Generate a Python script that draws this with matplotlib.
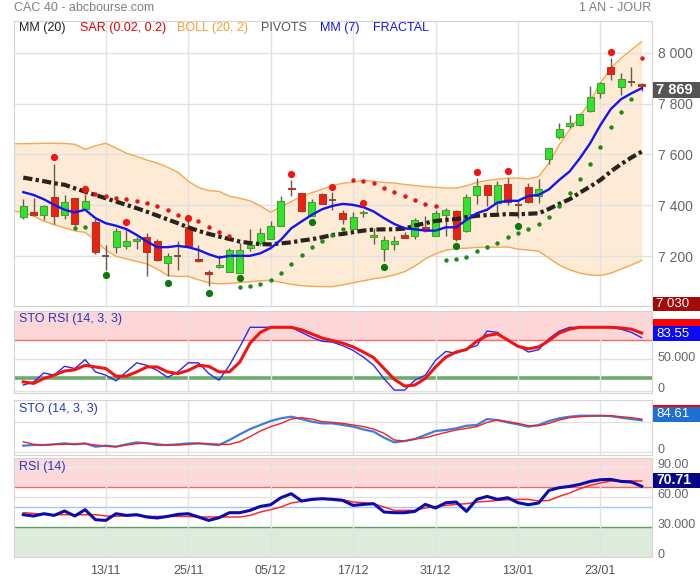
import numpy as np
import matplotlib
matplotlib.use("Agg")
import matplotlib.pyplot as plt
from matplotlib.patches import Rectangle
from matplotlib.transforms import ScaledTranslation

plt.rcParams['font.family'] = ['Liberation Sans', 'DejaVu Sans']

nan = np.nan

# ---- data (CAC 40, daily, 01/11 -> 29/01) ----
dates    = ['13/11', '25/11', '05/12', '17/12', '31/12', '13/01', '23/01']
date_idx = [8, 16, 24, 32, 40, 48, 56]

opens  = [7354, 7375, 7364, 7432, 7362, 7428, 7385, 7334, 7203, 7236,
          7242, 7262, 7275, 7260, 7173, 7200, 7314, 7190, 7139, 7157,
          7138, 7134, 7232, 7252, 7270, 7320, 7470, 7448, 7360, 7445,
          7422, 7369, 7309, 7369, 7275, 7229, 7249, 7282, 7278, 7315,
          7278, 7363, 7379, 7301, 7439, 7481, 7409, 7485, 7402, 7471,
          7435, 7581, 7670, 7710, 7714, 7772, 7840, 7945, 7864, 7886, 7876]
highs  = [7424, 7428, 7402, 7563, 7441, 7430, 7444, 7346, 7245, 7311,
          7304, 7275, 7291, 7267, 7212, 7261, 7343, 7245, 7147, 7206,
          7232, 7252, 7308, 7310, 7339, 7435, 7500, 7450, 7424, 7448,
          7454, 7382, 7373, 7382, 7311, 7278, 7278, 7297, 7350, 7359,
          7383, 7389, 7380, 7445, 7507, 7482, 7494, 7507, 7422, 7487,
          7503, 7626, 7723, 7755, 7762, 7867, 7886, 7978, 7919, 7943, 7882]
lows   = [7348, 7358, 7342, 7328, 7346, 7320, 7382, 7208, 7147, 7212,
          7227, 7227, 7123, 7181, 7121, 7148, 7240, 7176, 7082, 7153,
          7138, 7134, 7221, 7244, 7270, 7318, 7435, 7373, 7358, 7406,
          7380, 7328, 7309, 7356, 7249, 7182, 7225, 7271, 7269, 7297,
          7278, 7278, 7261, 7294, 7406, 7396, 7369, 7402, 7350, 7410,
          7409, 7563, 7660, 7703, 7710, 7765, 7821, 7893, 7834, 7869, 7850]
closes = [7398, 7362, 7397, 7358, 7413, 7325, 7418, 7216, 7203, 7300,
          7260, 7269, 7216, 7185, 7201, 7200, 7242, 7181, 7129, 7167,
          7225, 7225, 7245, 7291, 7320, 7418, 7466, 7379, 7413, 7406,
          7422, 7346, 7354, 7376, 7284, 7265, 7261, 7271, 7341, 7304,
          7370, 7381, 7269, 7432, 7478, 7439, 7481, 7412, 7402, 7413,
          7464, 7625, 7699, 7723, 7758, 7825, 7880, 7915, 7895, 7886, 7869]

mm20 = [7509, 7502, 7495, 7487, 7481, 7467, 7454, 7441, 7428, 7415,
        7402, 7389, 7375, 7360, 7345, 7330, 7314, 7300, 7288, 7278,
        7268, 7258, 7252, 7248, 7247, 7251, 7255, 7262, 7267, 7275,
        7284, 7288, 7295, 7301, 7305, 7306, 7306, 7309, 7321, 7330,
        7339, 7343, 7346, 7354, 7359, 7362, 7363, 7366, 7365, 7367,
        7369, 7386, 7406, 7424, 7450, 7474, 7500, 7533, 7562, 7588, 7611]
mm7 = [7452, 7441, 7424, 7402, 7383, 7372, 7383, 7350, 7330, 7320,
       7307, 7284, 7258, 7236, 7236, 7241, 7236, 7225, 7208, 7195,
       7202, 7202, 7202, 7212, 7232, 7265, 7310, 7337, 7363, 7385,
       7398, 7406, 7402, 7393, 7376, 7350, 7327, 7310, 7306, 7301,
       7301, 7314, 7314, 7343, 7369, 7383, 7411, 7418, 7418, 7437,
       7441, 7463, 7500, 7533, 7585, 7644, 7716, 7778, 7817, 7840, 7860]

# bollinger bands start one session before the first candle
boll_up = [7642, 7642, 7643, 7644, 7644, 7643, 7640, 7620, 7634, 7644,
           7625, 7605, 7592, 7578, 7566, 7550, 7530, 7495, 7470, 7458,
           7455, 7436, 7428, 7418, 7398, 7373, 7395, 7415, 7435, 7450,
           7463, 7478, 7487, 7491, 7498, 7495, 7490, 7488, 7482, 7478,
           7474, 7471, 7468, 7468, 7477, 7490, 7498, 7503, 7507, 7507,
           7504, 7513, 7566, 7638, 7697, 7749, 7808, 7880, 7939, 7978, 8011, 8043]
boll_lo = [7378, 7372, 7358, 7338, 7324, 7312, 7300, 7294, 7262, 7225,
           7200, 7190, 7180, 7170, 7150, 7125, 7121, 7121, 7108, 7096,
           7092, 7094, 7097, 7100, 7104, 7106, 7098, 7090, 7085, 7082,
           7081, 7081, 7088, 7096, 7104, 7112, 7118, 7127, 7140, 7162,
           7190, 7210, 7224, 7230, 7232, 7235, 7236, 7236, 7237, 7228,
           7225, 7220, 7193, 7166, 7147, 7134, 7127, 7125, 7134, 7150, 7166, 7184]

sar = [nan, nan, nan, nan, nan, 7313, 7317, 7443, 7438, 7428,
       7426, 7418, 7408, 7396, 7380, 7363, 7349, 7337, 7317, 7297,
       7281, 7081, 7085, 7092, 7108, 7136, 7170, 7206, 7235, 7262,
       7284, 7308, 7500, 7496, 7487, 7470, 7454, 7437, 7422, 7406,
       7396, 7184, 7189, 7199, 7219, 7235, 7252, 7274, 7291, 7308,
       7326, 7356, 7399, 7450, 7503, 7563, 7631, 7706, 7768, 7817, 7980]

fract_hi_idx = [3, 6, 10, 16, 26, 30, 33, 44, 47, 57]
fract_hi     = [7589, 7465, 7333, 7349, 7524, 7474, 7411, 7532, 7537, 8003]
fract_lo_idx = [8, 14, 18, 21, 28, 35, 42, 48]
fract_lo     = [7125, 7097, 7057, 7113, 7333, 7160, 7239, 7321]

storsi_k = [8.9, 14, 28, 24.5, 38.5, 35, 49, 29.7, 24.5, 15.6,
            29.7, 44, 40, 32, 21, 29.7, 44, 44, 27, 16.7,
            40, 69, 100, 100, 100, 100, 100, 92, 84, 78,
            76.6, 71, 63.5, 53, 40, 19, 1, 1, 16.7, 24.5,
            48, 62, 59, 66, 71, 94, 92, 79, 71, 61,
            64.6, 82, 94, 100, 100, 100, 100, 100, 97, 92, 83.55]
storsi_d = [14, 11.5, 19.3, 24.5, 31, 33, 40, 37.5, 35, 23,
            23, 29.7, 37.5, 37.5, 29.7, 27, 32, 40, 38.5, 29.7,
            29.7, 45, 75, 92, 100, 100, 100, 96, 89.6, 83,
            79, 75, 69, 61, 52, 35, 18, 7.3, 9, 19.3,
            37.5, 53, 61, 65, 78, 87, 89.6, 80, 70, 66,
            69, 79, 91, 97, 100, 100, 100, 100, 99, 97, 91]

sto_k = [16.2, 18, 18, 19.8, 22.5, 19.8, 22.5, 13.5, 16.2, 13.5,
         19.8, 25.2, 22.5, 18, 18, 19.8, 22.5, 22.5, 19.8, 18,
         31.5, 46.8, 61, 72, 82.7, 90, 94.4, 88, 81, 76.4,
         76.4, 72, 67.5, 60, 54, 37.8, 25.2, 28.8, 34.2, 45,
         55.8, 58.5, 63, 70, 72, 88, 85.4, 79, 73.7, 67.5,
         72, 82.7, 90, 94.4, 97, 97, 97, 96, 91.7, 88, 84.61]
sto_d = [27, 19.8, 18, 19.8, 19.8, 20.7, 21.6, 18, 15.3, 13.5,
         18, 21.6, 23.4, 20.7, 18, 18, 19.8, 22.5, 21.6, 19.8,
         19.8, 27, 40.5, 55.8, 67.5, 76.4, 88, 91.7, 88, 81,
         79, 76.4, 72, 67.5, 61, 49.5, 31.5, 28.8, 34.2, 37.8,
         45, 52, 58.5, 63, 67.5, 79, 85.4, 81, 76.4, 70,
         70, 76.4, 85.4, 91.7, 94.4, 96, 97, 97, 94.4, 91.7, 88]

rsi = [42.3, 41, 43.3, 41.6, 46, 41, 47.3, 37.3, 36.6, 43.3,
       41.6, 42.3, 40, 39, 40.6, 42.6, 43.3, 40, 36.6, 39.3,
       44.3, 44.3, 46.6, 50.6, 52.3, 59.3, 63.3, 56, 57.6, 58.3,
       57.6, 56.6, 51.6, 52.6, 53.3, 45, 44.3, 44.3, 45.6, 52.6,
       49, 54.3, 55, 45.6, 57.6, 60.6, 57.6, 59.3, 54.3, 52.3,
       54, 66.6, 69.3, 70.6, 72.6, 75.6, 77.3, 77.6, 75.6, 75, 70.71]
rsi_ma = [44.3, 43.6, 42.6, 42.3, 42.3, 42.3, 42.3, 42.3, 41, 40.6,
          41.3, 41.6, 40.6, 40.6, 40.6, 40.6, 40.6, 40, 40, 40,
          40, 40, 41.6, 45, 47.3, 50, 54, 55.6, 57.3, 58.3,
          58.3, 57.3, 55, 54.3, 53.3, 50, 46.6, 46.6, 46.6, 49,
          50.6, 51.6, 52.6, 53.3, 55, 55.6, 56.6, 57.3, 57.6, 57.6,
          56, 56.6, 60.6, 64, 68.3, 71.6, 74, 76, 76, 76, 76]

last_price = 7869
low_label  = 7030

# ---- figure ----
W, H = 700, 580
fig = plt.figure(figsize=(W/100, H/100), dpi=100)

def px(x0, y0, x1, y1):
    return [x0/W, 1 - y1/H, (x1 - x0)/W, (y1 - y0)/H]

def ftext(x, y, s, **kw):
    fig.text(x/W, 1 - y/H, s, va='center', **kw)

ax0 = fig.add_axes(px(14, 21, 652, 306))
ax1 = fig.add_axes(px(14, 311, 652, 393))
ax2 = fig.add_axes(px(14, 400, 652, 455))
ax3 = fig.add_axes(px(14, 458, 652, 557))

n = len(closes)
x = np.arange(n)
xb = np.arange(-1, n)

for ax in (ax0, ax1, ax2, ax3):
    ax.set_xlim(-0.9, 61.0)
    ax.set_xticks(date_idx)
    ax.grid(axis='x', color='#e2e2e2', lw=1, zorder=0)
    for s in ax.spines.values():
        s.set_color('#d4d4d4')
    ax.yaxis.tick_right()
    ax.tick_params(axis='y', length=0, pad=4, labelsize=9, labelcolor='#666666')
    ax.tick_params(axis='x', length=0, labelbottom=False)

# main panel
ax0.set_ylim(7005, 8124)
ax0.set_yticks([7200, 7400, 7600, 7800, 8000])
ax0.set_yticklabels(['7 200', '7 400', '7 600', '7 800', '8 000'])
ax0.tick_params(axis='y', labelsize=10)
ax0.grid(axis='y', color='#e2e2e2', lw=1, zorder=0)

ax0.fill_between(xb, boll_lo, boll_up, color='#fdebd6', zorder=1, lw=0)
ax0.plot(xb, boll_up, color='#f5a84c', lw=1, zorder=2)
ax0.plot(xb, boll_lo, color='#f5a84c', lw=1, zorder=2)

o = np.array(opens); c = np.array(closes)
ax0.vlines(x, lows, highs, color='#6b5a4c', lw=1, zorder=3)
up = c > o
dn = c < o
dj = c == o
ax0.bar(x[up], (c - o)[up], bottom=o[up], width=0.68, color='#2ee52e',
        edgecolor='#4f9a35', lw=0.8, zorder=4)
ax0.bar(x[dn], (o - c)[dn], bottom=c[dn], width=0.68, color='#f0200e',
        edgecolor='#a83a28', lw=0.8, zorder=4)
ax0.hlines(c[dj], x[dj] - 0.34, x[dj] + 0.34, color='#6b4a3c', lw=1.3, zorder=4)

ax0.plot(x, mm20, color='#2b2219', lw=3, zorder=5,
         linestyle=(0, (2.2, 0.8, 0.8, 0.8)), dash_capstyle='butt')
ax0.plot(x, mm7, color='#1414ee', lw=1.7, zorder=5)

sar_a = np.array(sar)
above = sar_a > np.array(highs)
below = sar_a < np.array(lows)
ax0.plot(x[above], sar_a[above], 'o', color='#e8141b', ms=3.2, mew=0, zorder=6)
ax0.plot(x[below], sar_a[below], 'o', color='#1c8a1c', ms=3.2, mew=0, zorder=6)
ax0.plot(fract_hi_idx, fract_hi, 'o', color='#f41414', ms=5.2, mew=0, zorder=6)
ax0.plot(fract_lo_idx, fract_lo, 'o', color='#0b780b', ms=5.2, mew=0, zorder=6)

# STO RSI
ax1.set_ylim(-3.6, 125.7)
ax1.set_yticks([0, 50])
ax1.set_yticklabels(['0', '50.000'])
ax1.grid(axis='y', color='#e2e2e2', lw=1, zorder=0)
ax1.axhspan(80, 130, color='#fdd7d7', zorder=0.5, lw=0)
ax1.axhline(80, color='#f06a6a', lw=1, zorder=1)
ax1.axhline(20, color='#6cab6c', lw=2.6, zorder=1)
ax1.plot(x, storsi_k, color='#2a2aef', lw=1, zorder=3)
ax1.plot(x, storsi_d, color='#f01414', lw=2.2, zorder=4)

# STO
ax2.set_ylim(-8.9, 139.4)
ax2.set_yticks([0, 80])
ax2.set_yticklabels(['0', ''])
ax2.grid(axis='y', color='#e2e2e2', lw=1, zorder=0)
ax2.plot(x, sto_k, color='#3d7ddc', lw=1.6, zorder=3)
ax2.plot(x, sto_d, color='#f02020', lw=1, zorder=4)

# RSI
ax3.set_ylim(0, 99)
ax3.set_yticks([0, 30, 60, 90])
ax3.set_yticklabels(['0', '30.000', '60.00', '90.00'])
ax3.axhspan(70, 110, color='#fdd9d9', zorder=0.5, lw=0)
ax3.axhspan(-5, 30, color='#dcebdc', zorder=0.5, lw=0)
ax3.axhline(90, color='#ececec', lw=1, zorder=0.8)
ax3.axhline(60, color='#e2e2e2', lw=1, zorder=0.8)
ax3.axhline(70, color='#e86a6a', lw=1, zorder=1)
ax3.axhline(50, color='#a2c6f0', lw=1, zorder=1)
ax3.axhline(30, color='#5e9e5e', lw=1, zorder=1)
ax3.plot(x, rsi_ma, color='#ff2a2a', lw=1.1, zorder=3)
ax3.plot(x, rsi, color='#0c0caa', lw=2.2, zorder=4)

ax3.set_xticklabels(dates)
ax3.tick_params(axis='x', labelbottom=True, pad=6, labelsize=9, labelcolor='#555555')

# indicator labels sit a little above their grid lines
lift = ScaledTranslation(0, 3/100, fig.dpi_scale_trans)
for ax in (ax1, ax2, ax3):
    for lab in ax.get_yticklabels():
        lab.set_transform(lab.get_transform() + lift)

# value boxes on the right edge
def value_box(ax, val, txt, color, dy, h=15, size=9.5, weight='normal', z=10):
    yc = H - ax.transData.transform((0, val))[1] + dy
    fig.patches.append(Rectangle((653/W, 1 - (yc + h/2)/H), 47/W, h/H,
                                 transform=fig.transFigure, fc=color, ec='none', zorder=z))
    if txt:
        fig.text(656/W, 1 - yc/H, txt, ha='left', va='center', color='white',
                 fontsize=size, fontweight=weight, zorder=z + 0.5)

value_box(ax0, last_price, '7 869', '#555555', 4, h=16, size=10.5, weight='bold')
value_box(ax0, low_label, '7 030', '#a30a0a', 4, h=14, size=9.5)
value_box(ax1, storsi_d[-1], '', '#ff0000', -7, z=9)
value_box(ax1, storsi_k[-1], '83.55', '#0b0bf5', -4, z=10)
value_box(ax2, sto_d[-1], '', '#ff0000', -7, z=9)
value_box(ax2, sto_k[-1], '84.61', '#1f6fd2', -6, z=10)
value_box(ax3, rsi[-1], '70.71', '#05058a', -6, size=10, weight='bold')

# texts
ftext(14, 8, 'CAC 40 - abcbourse.com', color='#808080', fontsize=9)
ftext(651, 8, '1 AN - JOUR', color='#808080', fontsize=9, ha='right')
ftext(19, 28, 'MM (20)', color='#222222', fontsize=9)
ftext(80, 28, 'SAR (0.02, 0.2)', color='#e00000', fontsize=9)
ftext(177, 28, 'BOLL (20, 2)', color='#f5a030', fontsize=9)
ftext(261, 28, 'PIVOTS', color='#555555', fontsize=9)
ftext(320, 28, 'MM (7)', color='#1515e0', fontsize=9)
ftext(373, 28, 'FRACTAL', color='#1515e0', fontsize=9)
ftext(19, 319, 'STO RSI (14, 3, 3)', color='#2438c0', fontsize=9)
ftext(19, 409, 'STO (14, 3, 3)', color='#2438c0', fontsize=9)
ftext(19, 467, 'RSI (14)', color='#2438c0', fontsize=9)

plt.savefig('out.png', dpi=100)
